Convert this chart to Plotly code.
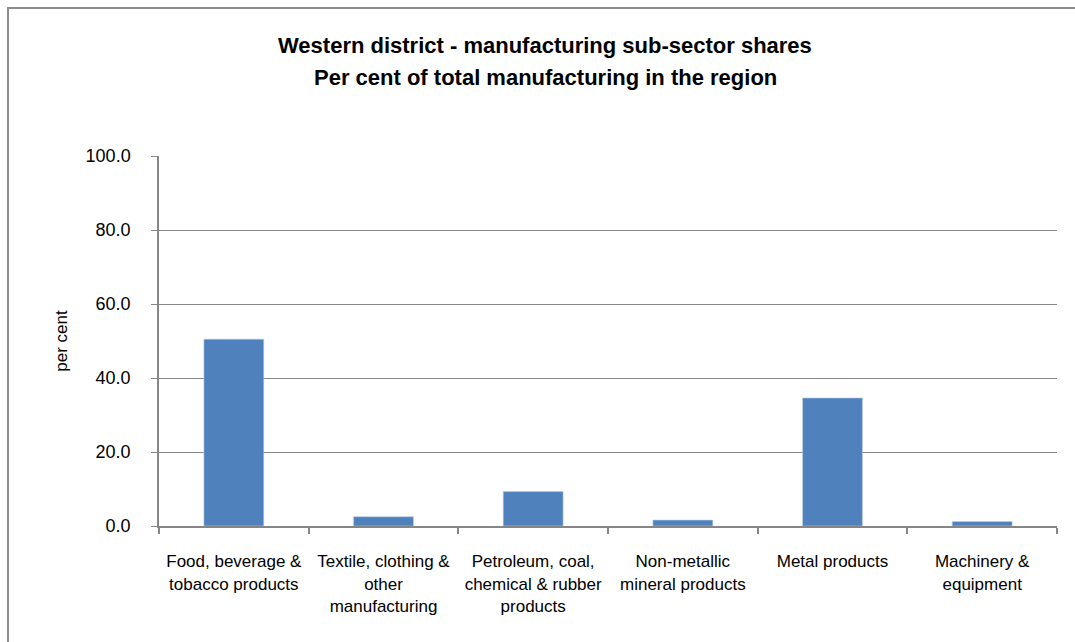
import plotly.graph_objects as go

# Manufacturing sub-sectors and their share of regional manufacturing (%)
categories = [
    "Food, beverage &<br>tobacco products",
    "Textile, clothing &<br>other<br>manufacturing",
    "Petroleum, coal,<br>chemical & rubber<br>products",
    "Non-metallic<br>mineral products",
    "Metal products",
    "Machinery &<br>equipment",
]
shares = [50.5, 2.5, 9.3, 1.6, 34.6, 1.2]
y_ticks = [0, 20, 40, 60, 80, 100]
y_tick_labels = ["0.0", "20.0", "40.0", "60.0", "80.0", "100.0"]

W, H = 1075, 642
ML, MR, MT, MB = 159, 18, 156, 116
PW, PH = W - ML - MR, H - MT - MB

def px_x(p):
    return (p - ML) / PW

def px_y(p):
    return (H - MB - p) / PH

FONT = "Liberation Sans, Arial, sans-serif"
GRID = "#868686"

fig = go.Figure(
    go.Bar(
        x=categories,
        y=shares,
        marker=dict(color="#4F81BD", line=dict(color="#b9cde5", width=0.6)),
        width=0.4,
    )
)

# Two-line chart title, each line placed separately for even spacing
title_lines = [
    "Western district - manufacturing sub-sector shares",
    "Per cent of total manufacturing in the region",
]
title_rows_px = [46, 78]

fig.update_layout(
    width=W,
    height=H,
    margin=dict(l=ML, r=MR, t=MT, b=MB),
    paper_bgcolor="white",
    plot_bgcolor="white",
    showlegend=False,
    font=dict(family=FONT, color="#000000"),
    annotations=[
        dict(
            text=f"<b>{line}</b>",
            xref="paper",
            yref="paper",
            x=px_x(545),
            y=px_y(row),
            xanchor="center",
            yanchor="middle",
            showarrow=False,
            font=dict(family=FONT, size=22, color="#000000"),
        )
        for line, row in zip(title_lines, title_rows_px)
    ],
    shapes=[
        dict(
            type="rect",
            xref="paper",
            yref="paper",
            x0=px_x(8),
            x1=px_x(W + 20),
            y0=px_y(H + 20),
            y1=px_y(8),
            line=dict(color="#8c8c8c", width=2),
            fillcolor="rgba(0,0,0,0)",
            layer="below",
        )
    ],
)

fig.update_xaxes(
    type="category",
    showgrid=False,
    showline=True,
    linecolor=GRID,
    linewidth=2,
    ticks="outside",
    tickson="boundaries",
    ticklen=6,
    tickcolor=GRID,
    tickwidth=1.5,
    tickfont=dict(family=FONT, size=17, color="#000000"),
    ticklabelstandoff=19,
)

fig.update_yaxes(
    range=[0, 100],
    tickvals=y_ticks,
    ticktext=y_tick_labels,
    showgrid=True,
    gridcolor=GRID,
    gridwidth=1.3,
    showline=True,
    linecolor=GRID,
    linewidth=1.5,
    ticks="outside",
    ticklen=6,
    tickcolor=GRID,
    tickwidth=1.3,
    zeroline=False,
    ticklabelstandoff=17,
    tickfont=dict(family=FONT, size=18, color="#000000"),
    title=dict(text="per cent", font=dict(family=FONT, size=17, color="#000000"), standoff=14),
)

fig.write_html("out.html")
